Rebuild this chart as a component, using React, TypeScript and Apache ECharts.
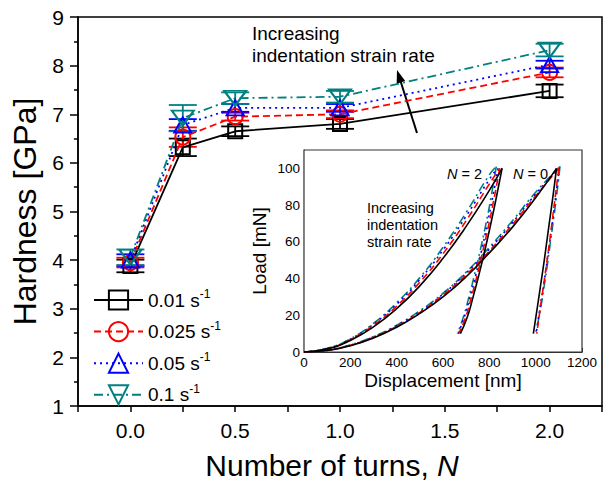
import React, { useEffect, useRef } from 'react';
import * as echarts from 'echarts';

// ---------- main chart data ----------
const turns = [0, 0.25, 0.5, 1.0, 2.0];
const rateNames = ['0.01', '0.025', '0.05', '0.1'];
const hard001 = [3.88, 6.32, 6.65, 6.8, 7.48];
const hard0025 = [3.95, 6.53, 6.95, 7.0, 7.86];
const hard005 = [4.0, 6.78, 7.13, 7.13, 8.02];
const hard01 = [4.06, 6.92, 7.33, 7.36, 8.32];
const err001 = [0.13, 0.18, 0.1, 0.1, 0.13];
const err0025 = [0.1, 0.2, 0.08, 0.08, 0.1];
const err005 = [0.12, 0.12, 0.08, 0.08, 0.08];
const err01 = [0.16, 0.27, 0.12, 0.12, 0.13];
const yTicksMain = [1, 9];

// ---------- inset data: load [mN] vs displacement [nm] ----------
const n0Load001 = [[0, 0], [100, 0.8], [200, 3.4], [300, 7.6], [400, 13.5], [500, 21], [600, 30], [700, 41], [800, 54], [900, 68], [1000, 84], [1090, 100]];
const n0Load0025 = [[0, 0], [100, 0.9], [200, 3.6], [300, 8], [400, 14], [500, 21.5], [600, 31], [700, 42], [800, 55], [900, 69.5], [1000, 85], [1100, 100]];
const n0Load005 = [[0, 0], [100, 1], [200, 3.7], [300, 8.2], [400, 14.3], [500, 22], [600, 31.5], [700, 43], [800, 56], [900, 70.5], [1000, 86], [1102, 100]];
const n0Load01 = [[0, 0], [100, 1], [200, 3.8], [300, 8.4], [400, 14.6], [500, 22.5], [600, 32], [700, 43.5], [800, 57], [900, 71.5], [1000, 87], [1105, 101]];
const n0Unload001 = [[1090, 100], [1078, 88], [1064, 75], [1050, 62], [1036, 49], [1022, 37], [1008, 25], [990, 10]];
const n0Unload0025 = [[1100, 100], [1088, 88], [1075, 75], [1062, 62], [1048, 49], [1035, 37], [1021, 25], [1005, 10]];
const n0Unload005 = [[1102, 100], [1090, 88], [1077, 75], [1063, 62], [1049, 49], [1035, 37], [1020, 25], [1002, 10]];
const n0Unload01 = [[1105, 101], [1093, 88], [1080, 75], [1066, 62], [1052, 49], [1038, 37], [1023, 25], [1000, 10]];
const n2Load001 = [[0, 0], [100, 1.7], [200, 6.3], [300, 13.7], [400, 23.6], [500, 36], [600, 51], [700, 68.4], [800, 88], [855, 100]];
const n2Load0025 = [[0, 0], [100, 1.8], [200, 6.7], [300, 14.5], [400, 25], [500, 38], [600, 53.5], [700, 71.5], [800, 91.5], [845, 100]];
const n2Load005 = [[0, 0], [100, 1.9], [200, 7], [300, 15.2], [400, 26], [500, 39.5], [600, 55.5], [700, 74], [800, 94], [835, 100]];
const n2Load01 = [[0, 0], [100, 2], [200, 7.2], [300, 15.6], [400, 26.8], [500, 40.5], [600, 57], [700, 76], [800, 96.5], [830, 101]];
const n2Unload001 = [[855, 100], [830, 84], [805, 69], [780, 55], [755, 42], [730, 30], [705, 19], [675, 10]];
const n2Unload0025 = [[845, 100], [821, 84], [797, 69], [772, 55], [748, 42], [723, 30], [698, 19], [668, 10]];
const n2Unload005 = [[838, 100], [814, 84], [790, 69], [766, 55], [742, 42], [717, 30], [692, 19], [665, 10]];
const n2Unload01 = [[830, 101], [807, 84], [784, 69], [760, 55], [736, 42], [712, 30], [688, 19], [662, 10]];

const FONT = 'Arial, "Liberation Sans", Helvetica, sans-serif';
const rateColors = ['#000000', '#ff0000', '#0000ff', '#008080'];
const rateDash: any[] = ['solid', [7, 4], [2, 4], [9, 4, 2, 4]];
const rateSymbols = ['rect', 'circle', 'triangle', 'triangle'];
const rateRotate = [0, 0, 0, 180];
const rateSymbolSize: any[] = [14, 15, [17, 15], [22, 15]];
const hardAll = [hard001, hard0025, hard005, hard01];
const errAll = [err001, err0025, err005, err01];
const insetCurves = [
  [n0Load001, n0Unload001, n2Load001, n2Unload001],
  [n0Load0025, n0Unload0025, n2Load0025, n2Unload0025],
  [n0Load005, n0Unload005, n2Load005, n2Unload005],
  [n0Load01, n0Unload01, n2Load01, n2Unload01],
];

function errRender(color: string) {
  return (params: any, api: any) => {
    const x = api.value(0);
    const pLo = api.coord([x, api.value(1)]);
    const pHi = api.coord([x, api.value(2)]);
    const hw = 14;
    const st = { stroke: color, lineWidth: 1.8 };
    return {
      type: 'group',
      children: [
        { type: 'line', shape: { x1: pLo[0], y1: pLo[1], x2: pHi[0], y2: pHi[1] }, style: st },
        { type: 'line', shape: { x1: pLo[0] - hw, y1: pLo[1], x2: pLo[0] + hw, y2: pLo[1] }, style: st },
        { type: 'line', shape: { x1: pHi[0] - hw, y1: pHi[1], x2: pHi[0] + hw, y2: pHi[1] }, style: st },
      ],
    };
  };
}

function arrow(x1: number, y1: number, x2: number, y2: number, len: number, half: number, lw: number) {
  const dx = x2 - x1, dy = y2 - y1;
  const L = Math.sqrt(dx * dx + dy * dy);
  const ux = dx / L, uy = dy / L;
  const bx = x2 - ux * len, by = y2 - uy * len;
  const px = -uy * half, py = ux * half;
  return {
    type: 'group',
    children: [
      { type: 'line', shape: { x1, y1, x2: bx + ux * 2, y2: by + uy * 2 }, style: { stroke: '#000', lineWidth: lw } },
      { type: 'polygon', shape: { points: [[x2, y2], [bx + px, by + py], [bx - px, by - py]] }, style: { fill: '#000' } },
    ],
  };
}

export default function App() {
  const ref = useRef<HTMLDivElement>(null);
  useEffect(() => {
    const chart = echarts.init(ref.current!, null, { renderer: 'svg' });
    const series: any[] = [];
    rateNames.forEach((name, i) => {
      series.push({
        name: 'err' + i,
        type: 'custom',
        xAxisIndex: 0,
        yAxisIndex: 0,
        renderItem: errRender(rateColors[i]),
        encode: { x: 0, y: [1, 2] },
        data: turns.map((t, k) => [t, hardAll[i][k] - errAll[i][k], hardAll[i][k] + errAll[i][k]]),
        z: 2,
      });
    });
    rateNames.forEach((name, i) => {
      series.push({
        name,
        type: 'line',
        xAxisIndex: 0,
        yAxisIndex: 0,
        data: turns.map((t, k) => [t, hardAll[i][k]]),
        symbol: rateSymbols[i],
        symbolRotate: rateRotate[i],
        symbolSize: rateSymbolSize[i],
        lineStyle: { color: rateColors[i], width: 1.8, type: rateDash[i] },
        itemStyle: { color: 'rgba(0,0,0,0)', borderColor: rateColors[i], borderWidth: 2 },
        z: 3,
      });
    });
    [3, 2, 1, 0].forEach((i) => {
      insetCurves[i].forEach((curve, j) => {
        series.push({
          name: 'inset' + i + '_' + j,
          type: 'line',
          xAxisIndex: 1,
          yAxisIndex: 1,
          data: curve,
          smooth: true,
          showSymbol: false,
          lineStyle: { color: rateColors[i], width: 1.6, type: rateDash[i] },
          z: 5,
        });
      });
    });

    const option: any = {
      animation: false,
      backgroundColor: '#fff',
      textStyle: { fontFamily: FONT },
      grid: [
        { left: 78, right: 1, top: 17, bottom: 79, show: true, borderColor: '#000', borderWidth: 1.5 },
        { left: 304, top: 150, width: 278, height: 202, show: true, backgroundColor: '#fff', borderColor: '#333', borderWidth: 1.2, z: 4 },
      ],
      legend: {
        data: rateNames,
        orient: 'vertical',
        left: 88,
        top: 283,
        itemWidth: 49,
        itemHeight: 24,
        itemGap: 9,
        formatter: (n: string) => `{a|${n} s}{b|-1}`,
        textStyle: {
          fontFamily: FONT,
          color: '#000',
          rich: {
            a: { fontSize: 19, fontFamily: FONT, color: '#000', lineHeight: 24 },
            b: { fontSize: 12, fontFamily: FONT, color: '#000', verticalAlign: 'top', lineHeight: 24 },
          },
        },
      },
      xAxis: [
        {
          gridIndex: 0,
          type: 'value',
          min: -0.25,
          max: 2.25,
          interval: 0.25,
          name: '{a|Number of turns, }{b|N}',
          nameLocation: 'middle',
          nameGap: 44,
          nameTextStyle: {
            padding: [0, 16, 0, 0],
            rich: {
              a: { fontSize: 30, fontFamily: FONT, color: '#000' },
              b: { fontSize: 30, fontFamily: FONT, color: '#000', fontStyle: 'italic' },
            },
          },
          axisLine: { onZero: false, lineStyle: { color: '#000', width: 1.5 } },
          axisTick: { inside: false, length: 6, lineStyle: { color: '#000', width: 1.5 } },
          axisLabel: {
            fontSize: 21,
            color: '#000',
            margin: 14,
            fontFamily: FONT,
            formatter: (v: number) => {
              const d = v * 2;
              return v >= 0 && v <= 2 && Math.abs(d - Math.round(d)) < 1e-6 ? v.toFixed(1) : '';
            },
          },
          splitLine: { show: false },
        },
        {
          gridIndex: 1,
          type: 'value',
          min: 0,
          max: 1200,
          interval: 200,
          name: 'Displacement [nm]',
          nameLocation: 'middle',
          nameGap: 19,
          nameTextStyle: { fontSize: 19, color: '#000', fontFamily: FONT },
          axisLine: { onZero: false, lineStyle: { color: '#333', width: 1.2 } },
          axisTick: { inside: true, length: 4, lineStyle: { color: '#333' } },
          minorTick: { show: true, splitNumber: 2, length: 2, lineStyle: { color: '#333' } },
          axisLabel: { fontSize: 13.5, color: '#000', margin: 3, fontFamily: FONT, formatter: (v: number) => String(v) },
          splitLine: { show: false },
        },
      ],
      yAxis: [
        {
          gridIndex: 0,
          type: 'value',
          min: yTicksMain[0],
          max: yTicksMain[1],
          interval: 1,
          name: 'Hardness [GPa]',
          nameLocation: 'middle',
          nameGap: 37,
          nameTextStyle: { fontSize: 32, color: '#000', fontFamily: FONT },
          axisLine: { onZero: false, lineStyle: { color: '#000', width: 1.5 } },
          axisTick: { inside: false, length: 8, lineStyle: { color: '#000', width: 1.5 } },
          minorTick: { show: true, splitNumber: 2, length: 4, lineStyle: { color: '#000', width: 1.5 } },
          axisLabel: { fontSize: 21, color: '#000', margin: 14, fontFamily: FONT },
          splitLine: { show: false },
          minorSplitLine: { show: false },
        },
        {
          gridIndex: 1,
          type: 'value',
          min: 0,
          max: 110,
          interval: 20,
          name: 'Load [mN]',
          nameLocation: 'middle',
          nameGap: 35,
          nameTextStyle: { fontSize: 19, color: '#000', fontFamily: FONT },
          axisLine: { onZero: false, lineStyle: { color: '#333', width: 1.2 } },
          axisTick: { inside: true, length: 4, lineStyle: { color: '#333' } },
          minorTick: { show: true, splitNumber: 2, length: 2, lineStyle: { color: '#333' } },
          axisLabel: {
            fontSize: 13.5, color: '#000', margin: 4, fontFamily: FONT,
            formatter: (v: number) => (v > 100 ? '' : String(v)),
          },
          splitLine: { show: false },
          minorSplitLine: { show: false },
        },
      ],
      graphic: [
        { type: 'text', left: 252, top: 22, style: { text: 'Increasing\nindentation strain rate', font: `19px ${FONT}`, fill: '#000', lineHeight: 22 }, z: 10 },
        { ...arrow(417, 133, 397, 70, 13, 4.5, 2), z: 10 },
        { type: 'text', left: 367, top: 199, style: { text: 'Increasing\nindentation\nstrain rate', font: `14.5px ${FONT}`, fill: '#000', lineHeight: 17 }, z: 10 },
        { ...arrow(460, 245, 442, 227, 8, 3, 1.5), z: 10 },
        { ...arrow(515, 233, 506, 216, 8, 3, 1.5), z: 10 },
        {
          type: 'text', left: 447, top: 166, z: 10,
          style: { text: '{i|N} = 2', font: `14.5px ${FONT}`, fill: '#000', rich: { i: { fontStyle: 'italic', fontSize: 14.5, fontFamily: FONT } } },
        },
        {
          type: 'text', left: 513, top: 166, z: 10,
          style: { text: '{i|N} = 0', font: `14.5px ${FONT}`, fill: '#000', rich: { i: { fontStyle: 'italic', fontSize: 14.5, fontFamily: FONT } } },
        },
      ],
      series,
    };
    chart.setOption(option);
    return () => chart.dispose();
  }, []);
  return <div ref={ref} style={{ position: 'fixed', left: 0, top: 0, width: 605, height: 485, background: '#fff' }} />;
}
